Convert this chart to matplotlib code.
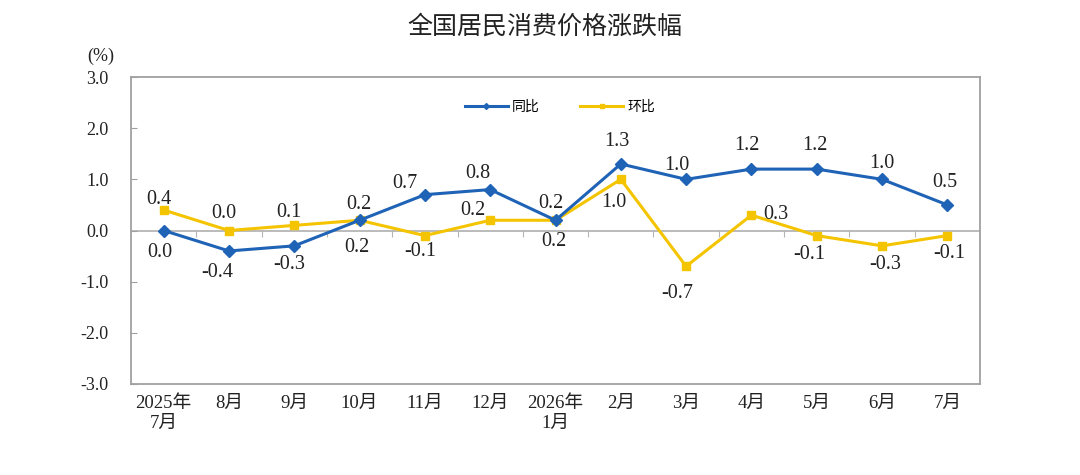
import matplotlib
matplotlib.use("Agg")
import matplotlib.pyplot as plt

plt.rcParams['font.family'] = ['Liberation Serif', 'Noto Sans CJK SC']

# data
months = ['2025年\n7月', '8月', '9月', '10月', '11月', '12月', '2026年\n1月',
          '2月', '3月', '4月', '5月', '6月', '7月']
yoy = [0.0, -0.4, -0.3, 0.2, 0.7, 0.8, 0.2, 1.3, 1.0, 1.2, 1.2, 1.0, 0.5]   # 同比
mom = [0.4, 0.0, 0.1, 0.2, -0.1, 0.2, 0.2, 1.0, -0.7, 0.3, -0.1, -0.3, -0.1]  # 环比

# label offsets in pixels (dx, dy with up positive)
yoy_off = [(-4, -22), (-12, -22), (-5, -19), (-3, -27), (-20, 11), (-12, 16), (-5, 17),
           (-4, 22), (-9, 14), (-5, 24), (-2, 24), (0, 16), (-3, 22)]
mom_off = [(-5, 11), (-5, 17), (-5, 13), (-1, 16), (-5, -16), (-17, 10), (-2, -21),
           (-7, -23), (-9, -27), (24, 1), (-7, -19), (3, -19), (2, -18)]

blue = '#1F63B6'
yellow = '#F5C400'
grey = '#A0A0A0'

fig = plt.figure(figsize=(10.8, 4.75), dpi=100)
ax = fig.add_axes([131 / 1080, 1 - 384 / 475, 849 / 1080, 307 / 475])

x = list(range(len(months)))

# zero line with category boundary ticks
ax.axhline(0, color='#B5B5B5', lw=1.3, zorder=1)
zero = ax.secondary_xaxis(0.5)
for s in zero.spines.values():
    s.set_visible(False)
zero.set_xticks([i + 0.5 for i in x[:-1]])
zero.set_xticklabels([])
zero.tick_params(direction='in', length=5, color='#B5B5B5')

l1, = ax.plot(x, yoy, color=blue, lw=2.2, marker='D', ms=6, label='同比', zorder=4)
l2, = ax.plot(x, mom, color=yellow, lw=2.2, marker='s', ms=6, label='环比', zorder=3)

for xi, v, (dx, dy) in zip(x, yoy, yoy_off):
    ax.annotate(f'{v:.1f}', (xi, v), xytext=(dx, dy), textcoords='offset pixels',
                ha='center', va='center', fontsize=14.5, color='#222222', zorder=5)
for xi, v, (dx, dy) in zip(x, mom, mom_off):
    ax.annotate(f'{v:.1f}', (xi, v), xytext=(dx, dy), textcoords='offset pixels',
                ha='center', va='center', fontsize=14.5, color='#222222', zorder=5)

ax.set_xlim(-0.5, len(months) - 0.5)
ax.set_ylim(-3, 3)
ax.set_yticks([-3, -2, -1, 0, 1, 2, 3])
ax.set_yticklabels([f'{t:.1f}' for t in [-3, -2, -1, 0, 1, 2, 3]])
ax.set_xticks(x)
ax.set_xticklabels(months)

for s in ax.spines.values():
    s.set_color(grey)
    s.set_linewidth(1.3)

ax.tick_params(axis='y', direction='in', length=4, color=grey, pad=16,
               labelsize=13, labelcolor='#222222')
ax.tick_params(axis='x', length=0, pad=8, labelsize=13.5, labelcolor='#222222')

leg = ax.legend(handles=[l1, l2], loc='center', bbox_to_anchor=(560 / 1080, 1 - 107 / 475),
                bbox_transform=fig.transFigure, ncol=2, frameon=False,
                prop={'family': 'Noto Sans CJK SC', 'size': 10},
                handlelength=3.1, handletextpad=0.3, columnspacing=2.9)
for h in leg.legend_handles:
    h.set_markersize(3)

fig.text(545 / 1080, 1 - 27 / 475, '全国居民消费价格涨跌幅', ha='center', va='center',
         fontsize=18, family='Noto Sans CJK SC', color='#222222')
fig.text(101 / 1080, 1 - 56 / 475, '(%)', ha='center', va='center', fontsize=13,
         color='#222222')

fig.savefig('out.png', dpi=100)
